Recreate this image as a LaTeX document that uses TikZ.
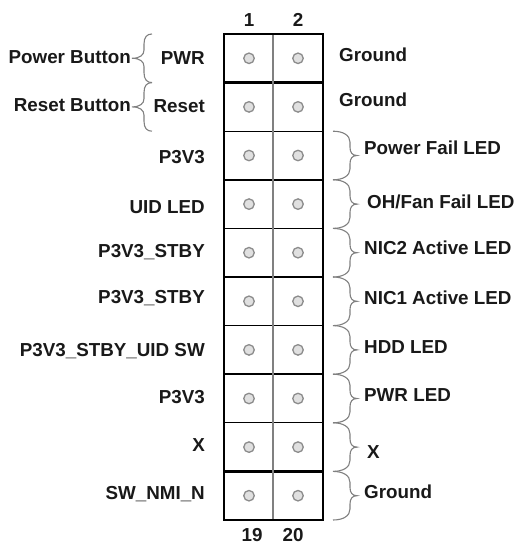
\documentclass[tikz,border=0pt]{standalone}
\usepackage{fontspec}
\setmainfont{Liberation Sans}
\usetikzlibrary{calc}

\tikzset{
  rbrace/.pic={\draw[brace line] (0,0) .. controls (10,0) and (17,4) .. (17,11) -- (17,16)
      .. controls (17,21) and (19,24.3) .. (24,24.3) .. controls (19,24.3) and (17,27.6) .. (17,32.6)
      -- (17,37.6) .. controls (17,44.6) and (10,48.6) .. (0,48.6);},
  lbrace/.pic={\draw[brace line] (0,0) .. controls (-5,0) and (-8,3) .. (-8,10) -- (-8,16)
      .. controls (-8,21) and (-12,24.3) .. (-20,24.3) .. controls (-12,24.3) and (-8,27.6) .. (-8,32.6)
      -- (-8,38.6) .. controls (-8,45.6) and (-5,48.6) .. (0,48.6);}
}

\begin{document}
\begin{tikzpicture}[x=1pt,y=-1pt,
    lbl/.style={font=\fontsize{18.8}{22}\selectfont\bfseries,text=black!90,inner sep=0pt,
      text height=13.5pt,text depth=0pt},
    pin/.style={circle,draw=black!45,fill=black!12,line width=1.3pt,minimum size=10.5pt,inner sep=0pt},
    brace line/.style={draw=black!50,line width=1.1pt}]
  \useasboundingbox (0,0) rectangle (518,545);

  \foreach \r in {1,...,10}{
    \node[pin] (pa\r) at (249,{34+48.6*(\r-0.5)}) {};
    \node[pin] (pb\r) at (298,{34+48.6*(\r-0.5)}) {};
  }

  \foreach \r in {1,...,9}{
    \ifodd\r \def\lw{2.4pt}\else \def\lw{1.3pt}\fi
    \draw[line width=\lw] (224,{34+48.6*\r}) -- (323,{34+48.6*\r});
  }
  \draw[line width=1.7pt,black!50] (273,34) -- (273,520);
  \draw[line width=2.4pt] (224,34) rectangle (323,520);

  \node[lbl] (n1) at (249,20) {1};
  \node[lbl] (n2) at (298,20) {2};
  \node[lbl] (n19) at (252,535) {19};
  \node[lbl] (n20) at (293,535) {20};

  \foreach \r/\y/\t in {1/58/PWR,2/106/Reset,3/157/P3V3,4/207/UID LED,5/251/P3V3\_STBY,
      6/297/P3V3\_STBY,7/350/P3V3\_STBY\_UID SW,8/397/P3V3,9/445/X,10/493/SW\_NMI\_N}
    \node[lbl,anchor=east] (l\r) at (205,\y) {\t};

  \foreach \r/\x/\y/\t in {1/339/55/Ground,2/339/100/Ground,3/364/148/Power Fail LED,
      4/367/202/{OH/Fan Fail LED},5/364/248/NIC2 Active LED,6/364/298/NIC1 Active LED,
      7/364/347/HDD LED,8/364/395/PWR LED,9/367/452/X,10/364/492/Ground}
    \node[lbl,anchor=west] (r\r) at (\x,\y) {\t};

  \node[lbl,anchor=east] (pwrbtn) at (131,57) {Power Button};
  \node[lbl,anchor=east] (rstbtn) at (131,105) {Reset Button};

  \foreach \r in {1,2}
    \pic at (152,{34+48.6*(\r-1)}) {lbrace};
  \foreach \r in {3,...,10}
    \pic at (333,{34+48.6*(\r-1)}) {rbrace};
\end{tikzpicture}
\end{document}
